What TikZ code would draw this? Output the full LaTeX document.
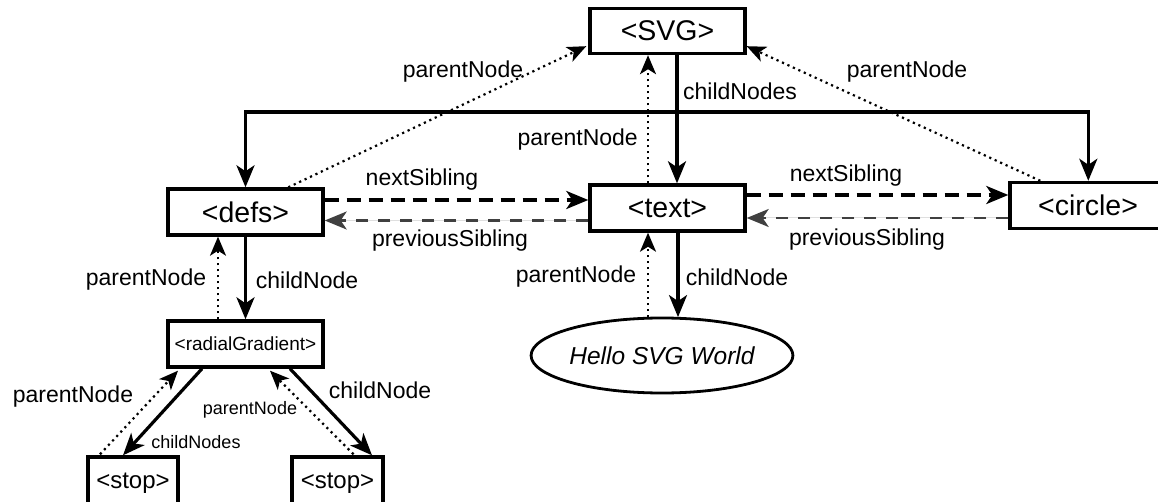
\documentclass[tikz,border=0pt]{standalone}
\usepackage{fontspec}
\setmainfont{Liberation Sans}
\usetikzlibrary{arrows.meta,shapes.geometric,calc}
\begin{document}
\begin{tikzpicture}[x=1pt,y=-1pt,
 box/.style={draw,line width=3.4pt,minimum width=155pt,minimum height=46pt,inner sep=0pt,font=\fontsize{28.5}{30}\selectfont},
 lbl/.style={inner sep=0pt,font=\fontsize{23}{26}\selectfont},
 slbl/.style={inner sep=0pt,font=\fontsize{18}{20}\selectfont},
 tip/.style={-{Stealth[length=22pt,width=18pt,inset=6pt]}},
 stip/.style={-{Stealth[length=19pt,width=16pt,inset=5pt]}},
 solidc/.style={tip,line width=3.2pt},
 dotc/.style={stip,line width=2.2pt,dash pattern=on 2.2pt off 3.8pt},
 nextc/.style={tip,line width=3.4pt,dash pattern=on 14pt off 8pt},
 prevc/.style={tip,line width=2.2pt,dash pattern=on 12pt off 10pt,draw=black!75,fill=black},
]
\useasboundingbox (0,0) rectangle (1158,502);
\clip (0,0) rectangle (1158,502);

% boxes
\node[box,minimum height=45pt] (svg) at (667.5,31) {<SVG>};
\node[box] (text) at (667.5,208) {<text>};
\node[box] (defs) at (245.5,212) {<defs>};
\node[box,minimum width=190pt] (circle) at (1105,205.5) {\hspace*{-34pt}<circle>};
\node[box,font=\fontsize{19}{21}\selectfont] (rg) at (245.5,344) {<radialGradient>};
\node[box,minimum width=90pt,minimum height=52pt,font=\fontsize{24}{26}\selectfont] (stopL) at (133,483) {<stop>};
\node[box,minimum width=91pt,minimum height=52pt,font=\fontsize{24}{26}\selectfont] (stopR) at (337.5,483) {<stop>};
\node[draw,ellipse,line width=2.8pt,minimum width=220pt,minimum height=75pt,inner sep=0pt,font=\fontsize{24.5}{26}\selectfont\itshape] (hello) at (662,355.5) {Hello SVG World};

% childNodes from SVG
\coordinate (hub) at (677,112);
\draw[solidc] ($(svg.south)+(9.5,0)$) -- ($(text.north)+(9.5,0)$);
\draw[solidc] (hub) -| (defs.north);
\draw[solidc] (hub) -| ($(circle.north west)+(80,0)$);

% parentNode to SVG
\draw[dotc] ($(defs.north west)+(122,0)$) -- ($(svg.south west)+(-2,-9)$);
\draw[dotc] ($(circle.north west)+(32,0)$) -- ($(svg.south east)+(0,-9)$);
\draw[dotc] ($(text.north)+(-19.5,0)$) -- ($(svg.south)+(-19.5,0)$);

% defs <-> radialGradient
\draw[solidc] (defs.south) -- (rg.north);
\draw[dotc] ($(rg.north)+(-27.5,0)$) -- ($(defs.south)+(-27.5,0)$);

% text <-> Hello
\draw[solidc] ($(text.south)+(10.5,0)$) -- ($(hello.north)+(16,0.5)$);
\draw[dotc] ($(hello.north)+(-14,0.5)$) -- ($(text.south)+(-19.5,0)$);

% siblings
\path ($(text.west)+(0,-8)$) coordinate (n1);
\draw[nextc] (n1 -| defs.east) -- (n1);
\path ($(text.west)+(0,12.5)$) coordinate (p1);
\draw[prevc] (p1) -- (p1 -| defs.east);
\path ($(circle.west)+(0,-10.5)$) coordinate (n2);
\draw[nextc] (n2 -| text.east) -- (n2);
\path ($(circle.west)+(0,12.5)$) coordinate (p2);
\draw[prevc] (p2) -- (p2 -| text.east);

% radialGradient <-> stops
\draw[solidc] ($(rg.south)+(-43.5,0)$) -- ($(stopL.north)+(-10,0)$);
\draw[dotc] ($(stopL.north)+(-33,-1)$) -- ($(rg.south)+(-67.5,2)$);
\draw[solidc] ($(rg.south)+(44.5,0)$) -- ($(stopR.north)+(34.5,0)$);
\draw[dotc] ($(stopR.north)+(16,-1)$) -- ($(rg.south)+(24.5,2)$);

% labels
\node[lbl] (l1) at (463,72) {parentNode};
\node[lbl,anchor=west] (l2) at (683,91) {childNodes};
\node[lbl] (l3) at (907,72) {parentNode};
\node[lbl,anchor=east] (l4) at (638,140) {parentNode};
\node[lbl] (l5) at (422,180) {nextSibling};
\node[lbl] (l6) at (450,241) {previousSibling};
\node[lbl] (l7) at (846,176) {nextSibling};
\node[lbl] (l8) at (867,240) {previousSibling};
\node[lbl] (l9) at (146,280) {parentNode};
\node[lbl] (l10) at (307,280) {childNode};
\node[lbl] (l11) at (576,277) {parentNode};
\node[lbl] (l12) at (737,277) {childNode};
\node[lbl] (l13) at (73,397) {parentNode};
\node[slbl] (l14) at (196,442) {childNodes};
\node[slbl] (l15) at (250,410) {parentNode};
\node[lbl] (l16) at (380,390) {childNode};
\end{tikzpicture}
\end{document}
